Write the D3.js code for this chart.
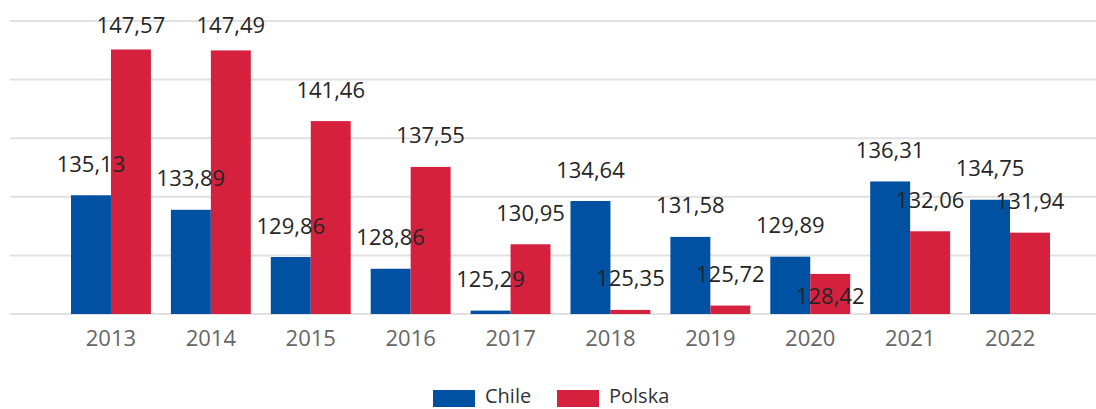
<!DOCTYPE html>
<html>
<head>
<meta charset="utf-8">
<script src="https://cdn.jsdelivr.net/npm/d3@7"></script>
<style>
  html, body { margin: 0; padding: 0; background: #fff; }
  svg { display: block; font-family: "Open Sans", "Noto Sans", sans-serif; }
</style>
</head>
<body>
<svg id="chart" width="1096" height="409"></svg>
<script>
const years = ["2013","2014","2015","2016","2017","2018","2019","2020","2021","2022"];
const seriesNames = ["Chile","Polska"];
const chileValues = [135.13,133.89,129.86,128.86,125.29,134.64,131.58,129.89,136.31,134.75];
const polskaValues = [147.57,147.49,141.46,137.55,130.95,125.35,125.72,128.42,132.06,131.94];
const yTicks = [125,130,135,140,145,150];
const colors = ["#0051a1","#d5213e"];

const svg = d3.select("#chart");
const W = 1096;

const x = d3.scaleBand().domain(years).range([61, 1060]).paddingInner(0.2).paddingOuter(0.1);
const xs = d3.scaleBand().domain(seriesNames).range([0, x.bandwidth()]);
const y = d3.scaleLinear().domain([125, 150]).range([314, 21]);

// gridlines
svg.append("g").selectAll("line").data(yTicks).join("line")
  .attr("x1", 10).attr("x2", W)
  .attr("y1", d => y(d)).attr("y2", d => y(d))
  .attr("stroke", "#e1e1e1").attr("stroke-width", 2);

const data = years.map((yr, i) => ({ year: yr, values: [chileValues[i], polskaValues[i]] }));

const groups = svg.append("g").selectAll("g").data(data).join("g")
  .attr("transform", d => `translate(${x(d.year)},0)`);

groups.selectAll("rect").data(d => d.values.map((v, j) => ({ v, s: seriesNames[j], j })))
  .join("rect")
  .attr("x", d => xs(d.s))
  .attr("width", xs.bandwidth())
  .attr("y", d => y(d.v))
  .attr("height", d => y(125) - y(d.v))
  .attr("fill", d => colors[d.j]);

// x axis labels
const xAxis = d3.axisBottom(x).tickSize(0).tickPadding(0);
const gx = svg.append("g").attr("transform", "translate(0,314)").call(xAxis);
gx.select(".domain").remove();
gx.selectAll("text")
  .attr("dy", null).attr("y", 32)
  .attr("font-size", 22).attr("fill", "#666")
  .attr("font-family", "\"Open Sans\", \"Noto Sans\", sans-serif");

// data labels with simple collision handling
const fmt = v => v.toFixed(2).replace(".", ",");
const labelG = svg.append("g");
const placed = [];
const fontSize = 22;
data.forEach(d => {
  d.values.forEach((v, j) => {
    const cx = x(d.year) + xs(seriesNames[j]) + xs.bandwidth() / 2;
    let base = y(v) - 23.5;
    if (base < 33) base = 33;
    const w = 70, h = 21;
    let box = { x0: cx - w/2, x1: cx + w/2, y0: base - h, y1: base };
    const hit = placed.some(b => b.x0 < box.x1 && box.x0 < b.x1 && b.y0 < box.y1 && box.y0 < b.y1);
    if (hit) {
      base = y(v) + 30;
      box = { x0: cx - w/2, x1: cx + w/2, y0: base - h, y1: base };
    }
    placed.push(box);
    labelG.append("text")
      .attr("x", cx).attr("y", base)
      .attr("text-anchor", "middle")
      .attr("font-size", fontSize)
      .attr("fill", "#252525")
      .text(fmt(v));
  });
});

// legend
const legend = svg.append("g");
const legendItems = [{ name: seriesNames[0], x: 433 }, { name: seriesNames[1], x: 557 }];
legendItems.forEach((it, i) => {
  legend.append("rect").attr("x", it.x).attr("y", 390).attr("width", 42).attr("height", 17).attr("fill", colors[i]);
  legend.append("text").attr("x", it.x + 52).attr("y", 403)
    .attr("font-size", 20).attr("fill", "#333").text(it.name);
});
</script>
</body>
</html>
